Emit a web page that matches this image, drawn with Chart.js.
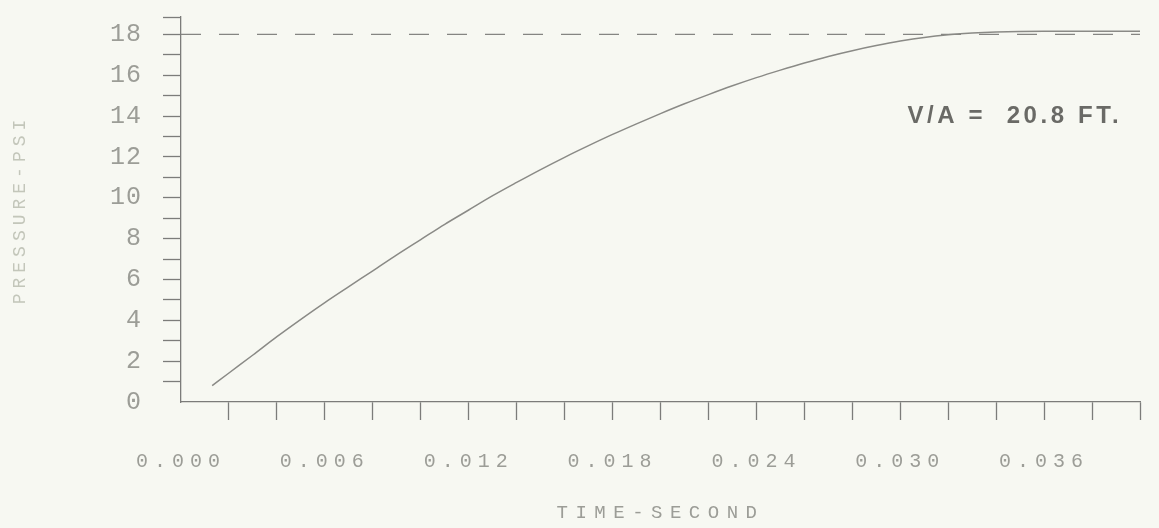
<!DOCTYPE html>
<html>
<head>
<meta charset="utf-8">
<script src="https://cdn.jsdelivr.net/npm/chart.js@4.4.1/dist/chart.umd.min.js"></script>
<style>
  html, body { margin: 0; padding: 0; background: #f7f8f2; }
  #wrap { width: 1159px; height: 528px; }
</style>
</head>
<body>
<div id="wrap"><canvas id="chart" width="1159" height="528"></canvas></div>
<script>
// pressure curve (time in seconds, pressure in psi)
const timeSec = [0.0013, 0.002, 0.003, 0.004, 0.005, 0.006, 0.007, 0.008, 0.009, 0.010,
  0.011, 0.012, 0.013, 0.014, 0.015, 0.016, 0.017, 0.018, 0.019, 0.020,
  0.021, 0.022, 0.023, 0.024, 0.025, 0.026, 0.027, 0.028, 0.029, 0.030,
  0.031, 0.032, 0.033, 0.034, 0.036, 0.038, 0.040];
const pressurePsi = [0.8, 1.42, 2.3, 3.2, 4.05, 4.87, 5.65, 6.42, 7.2, 7.95,
  8.7, 9.4, 10.1, 10.75, 11.38, 11.98, 12.55, 13.1, 13.62, 14.12,
  14.6, 15.05, 15.48, 15.88, 16.25, 16.6, 16.92, 17.2, 17.45, 17.67,
  17.85, 17.98, 18.07, 18.12, 18.15, 18.15, 18.15];

// dashed reference level
const refTime = [0, 0.040];
const refLevel = [18, 18];

// tick marks: every 0.002 s / every 1 psi, plus the closing tick at the axis end
const xTickValues = [0, 0.002, 0.004, 0.006, 0.008, 0.010, 0.012, 0.014, 0.016, 0.018, 0.020,
  0.022, 0.024, 0.026, 0.028, 0.030, 0.032, 0.034, 0.036, 0.038, 0.040];
const yTickValues = [0, 1, 2, 3, 4, 5, 6, 7, 8, 9, 10, 11, 12, 13, 14, 15, 16, 17, 18, 18.85];
const xTickLabels = ["0.000", "0.006", "0.012", "0.018", "0.024", "0.030", "0.036"];
const yTickLabels = ["0", "2", "4", "6", "8", "10", "12", "14", "16", "18"];
const xTitle = "TIME-SECOND";
const yTitle = "PRESSURE-PSI";
const note = "V/A =  20.8 FT.";
const notePos = [0.0303, 13.65];

const inkColor = "#7c7c7a";
const labelColor = "#9c9d97";
const monoFont = '"Liberation Mono", "DejaVu Sans Mono", monospace';

// canvas letter spacing per axis (the old plotter font is very wide)
const labelSpacing = { x: "6px", y: "1px" };
const titleSpacing = { x: "7.5px", y: "5px" };

const spacingPlugin = {
  id: "spacing",
  beforeDraw(chart) {
    ["x", "y"].forEach((id) => {
      const s = chart.scales[id];
      if (!s || s._spaced) return;
      const drawLabels = s.drawLabels.bind(s);
      const drawTitle = s.drawTitle.bind(s);
      s.drawLabels = (area) => {
        chart.ctx.save();
        chart.ctx.letterSpacing = labelSpacing[id];
        drawLabels(area);
        chart.ctx.restore();
      };
      s.drawTitle = () => {
        chart.ctx.save();
        chart.ctx.letterSpacing = titleSpacing[id];
        drawTitle();
        chart.ctx.restore();
      };
      s._spaced = true;
    });
  },
};

const notePlugin = {
  id: "note",
  afterDatasetsDraw(chart) {
    const { ctx, scales } = chart;
    ctx.save();
    ctx.letterSpacing = "3.6px";
    ctx.font = 'bold 24px "Liberation Sans", Arial, sans-serif';
    ctx.fillStyle = "#6a6a66";
    ctx.textAlign = "left";
    ctx.textBaseline = "alphabetic";
    ctx.fillText(note, scales.x.getPixelForValue(notePos[0]), scales.y.getPixelForValue(notePos[1]));
    ctx.restore();
  },
};

const hideZero = (c) => (c.tick && c.tick.value === 0 ? "rgba(0,0,0,0)" : inkColor);

new Chart(document.getElementById("chart"), {
  type: "scatter",
  data: {
    datasets: [
      {
        data: timeSec.map((t, i) => ({ x: t, y: pressurePsi[i] })),
        showLine: true,
        borderColor: "#8a8a86",
        borderWidth: 1.5,
        pointRadius: 0,
        cubicInterpolationMode: "monotone",
      },
      {
        data: refTime.map((t, i) => ({ x: t, y: refLevel[i] })),
        showLine: true,
        borderColor: "#858582",
        borderWidth: 1.3,
        borderDash: [20, 18],
        pointRadius: 0,
      },
    ],
  },
  options: {
    responsive: false,
    animation: false,
    devicePixelRatio: 1,
    layout: { padding: { top: 17, right: 19, left: 0, bottom: 0 } },
    plugins: { legend: { display: false }, tooltip: { enabled: false } },
    scales: {
      x: {
        type: "linear",
        min: 0,
        max: 0.04,
        afterBuildTicks: (s) => { s.ticks = xTickValues.map((v) => ({ value: v })); },
        afterFit: (s) => { s.height = 126; s.paddingLeft = 0; s.paddingRight = 0; },
        grid: { drawOnChartArea: false, tickLength: 18, tickWidth: 1.3, tickColor: hideZero },
        border: { display: true, color: inkColor, width: 1.3 },
        ticks: {
          autoSkip: false,
          maxRotation: 0,
          padding: 30,
          color: labelColor,
          font: { family: monoFont, size: 20 },
          callback: (v, i) => (i % 3 === 0 && xTickLabels[i / 3]) || "",
        },
        title: {
          display: true,
          text: xTitle,
          color: labelColor,
          padding: { top: 0, bottom: 4 },
          font: { family: monoFont, size: 19 },
        },
      },
      y: {
        type: "linear",
        min: 0,
        max: 18.85,
        afterBuildTicks: (s) => { s.ticks = yTickValues.map((v) => ({ value: v })); },
        afterFit: (s) => { s.width = 181; s.paddingTop = 0; s.paddingBottom = 0; },
        grid: { drawOnChartArea: false, tickLength: 18, tickWidth: 1.3, tickColor: hideZero },
        border: { display: true, color: inkColor, width: 1.3 },
        ticks: {
          autoSkip: false,
          padding: 21,
          color: labelColor,
          font: { family: monoFont, size: 25 },
          callback: (v) => (Number.isInteger(v) && v % 2 === 0 ? yTickLabels[v / 2] : ""),
        },
        title: {
          display: true,
          text: yTitle,
          color: "#c3c6ba",
          padding: { top: 9, bottom: 0 },
          font: { family: monoFont, size: 18 },
        },
      },
    },
  },
  plugins: [spacingPlugin, notePlugin],
});
</script>
</body>
</html>
